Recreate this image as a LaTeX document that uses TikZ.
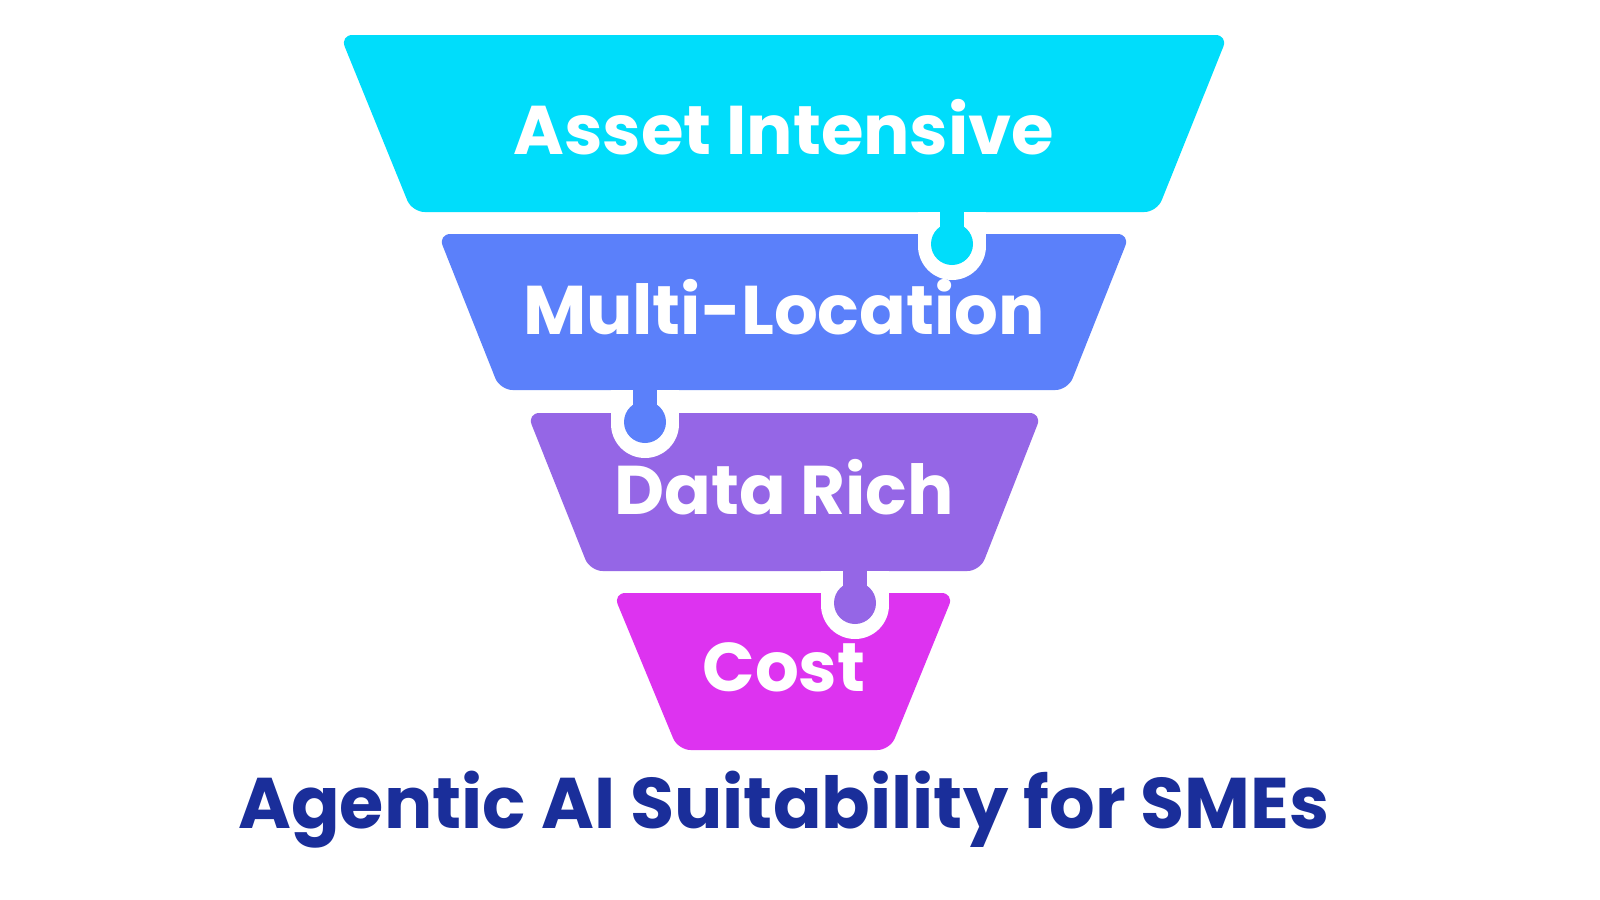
\documentclass[tikz,border=0pt]{standalone}
\usepackage{fontspec}
\setmainfont{Poppins}[BoldFont={* Bold}]
\definecolor{cyanA}{HTML}{00DDFB}
\definecolor{blueB}{HTML}{5B80FA}
\definecolor{purpC}{HTML}{9566E6}
\definecolor{magD}{HTML}{DD33F0}
\definecolor{titleC}{HTML}{1A2E9A}
\begin{document}
\begin{tikzpicture}[x=0.05cm,y=-0.05cm,
  piece/.style={rounded corners=18pt},
  lbl/.style={text=white,font=\fontsize{98}{100}\selectfont\bfseries},
]
\useasboundingbox[fill=white] (0,0) rectangle (1600,900);
% pieces
\fill[cyanA,piece] (340,35) -- (1228,35) -- (1157,212) -- (412,212) -- cycle;
\fill[blueB,piece] (438,234) -- (1130,234) -- (1068,390) -- (500,390) -- cycle;
\fill[purpC,piece] (527,413) -- (1042,413) -- (980,571) -- (590,571) -- cycle;
\fill[magD,piece] (613,593) -- (954,593) -- (890,750) -- (678,750) -- cycle;
% tabs: notch then knob
\foreach \x/\yb/\col in {952/212/cyanA, 645/390/blueB, 855/571/purpC}{
  \fill[white] (\x,\yb+34) circle[radius=34];
  \fill[white] (\x-34,\yb) rectangle (\x+34,\yb+34);
  \fill[\col] (\x-12,\yb-3) rectangle (\x+12,\yb+30);
  \fill[\col] (\x,\yb+32) circle[radius=21];
}
\node[lbl] (a) at (784,127) {Asset Intensive};
\node[lbl] (b) at (784,307) {Multi-Location};
\node[lbl] (c) at (784,487) {Data Rich};
\node[lbl] (d) at (784,667) {Cost};
\node[text=titleC,font=\fontsize{102}{104}\selectfont\bfseries] (t) at (784,810) {Agentic AI Suitability for SMEs};
\end{tikzpicture}
\end{document}
